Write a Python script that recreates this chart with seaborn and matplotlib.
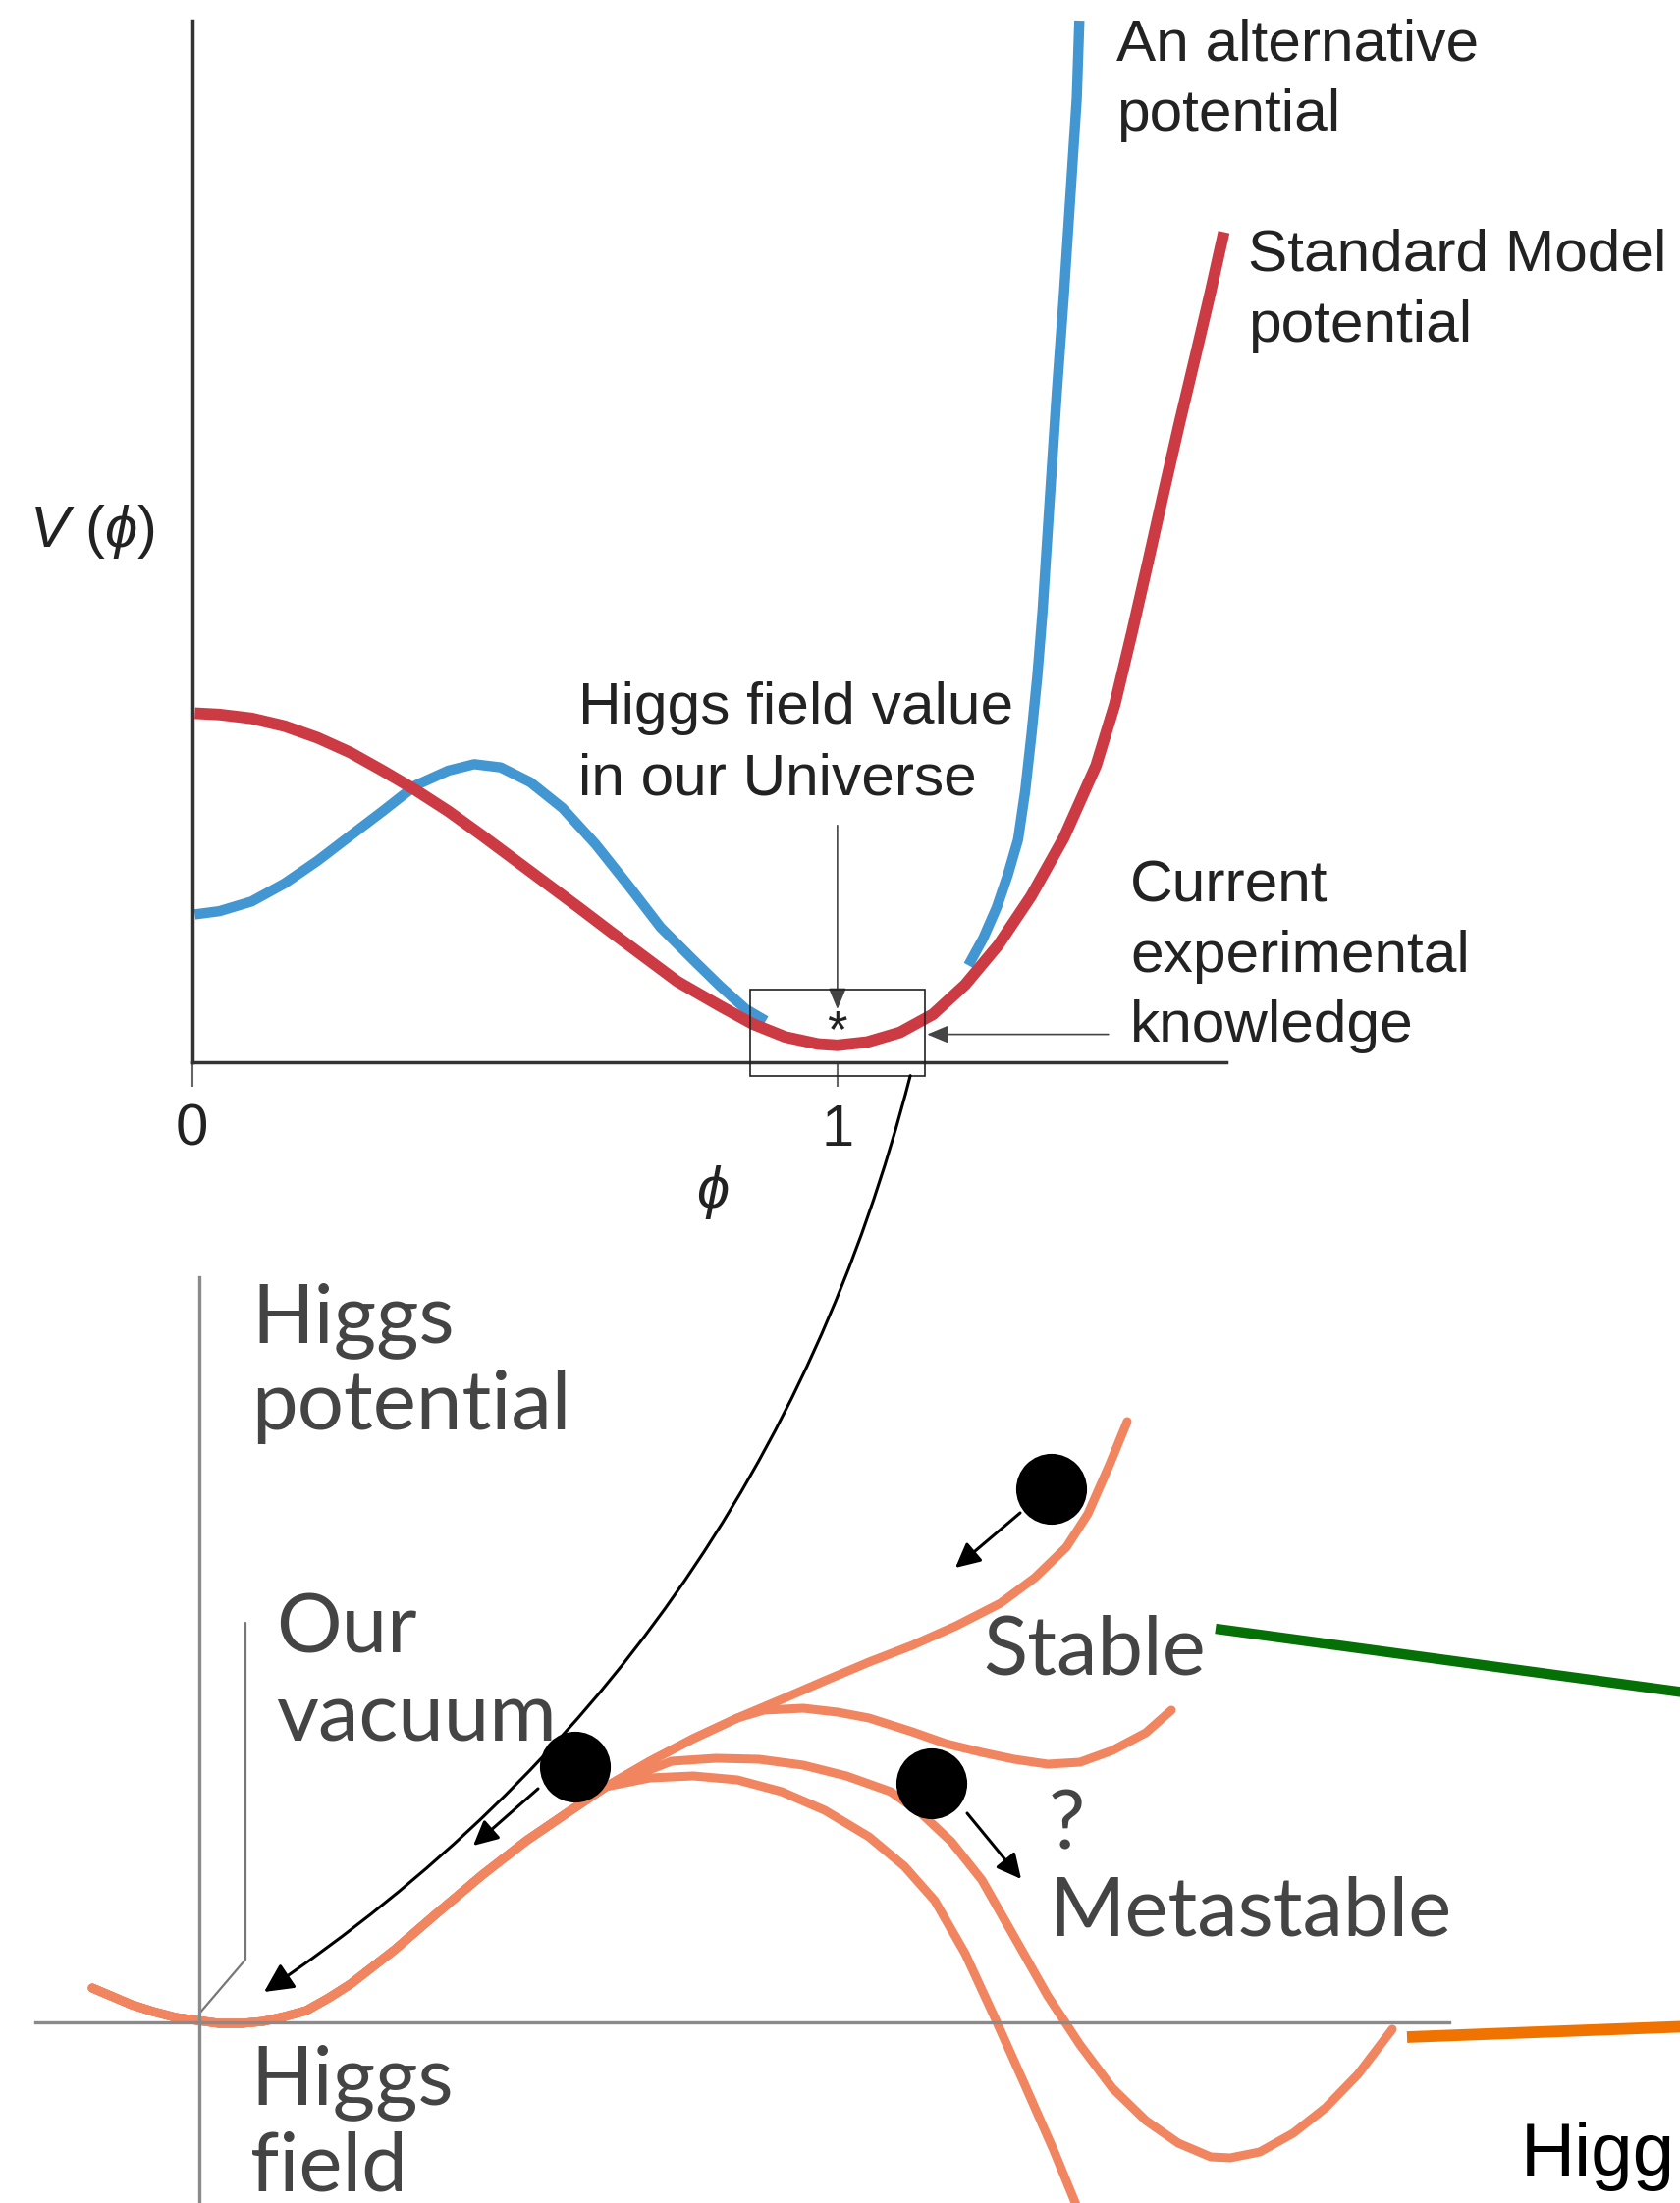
import seaborn as sns
import matplotlib.pyplot as plt
from matplotlib.patches import Rectangle, ConnectionPatch

# ---------------- top panel: V(phi) ----------------
SM_PHI = [0.004, 0.042, 0.092, 0.143, 0.194, 0.245, 0.295, 0.346, 0.397, 0.447,
          0.498, 0.549, 0.600, 0.650, 0.701, 0.752, 0.818, 0.869, 0.919, 0.970,
          1.000, 1.046, 1.097, 1.148, 1.198, 1.249, 1.300, 1.351, 1.401, 1.430,
          1.457, 1.482, 1.506, 1.530, 1.555, 1.578, 1.599]
SM_V = [0.541, 0.539, 0.533, 0.521, 0.503, 0.480, 0.452, 0.422, 0.389, 0.353,
        0.315, 0.277, 0.239, 0.201, 0.163, 0.125, 0.087, 0.059, 0.039, 0.028,
        0.026, 0.031, 0.046, 0.074, 0.120, 0.181, 0.257, 0.348, 0.460, 0.555,
        0.668, 0.778, 0.885, 0.990, 1.095, 1.193, 1.287]

ALT_LEFT_PHI = [0.004, 0.042, 0.092, 0.143, 0.194, 0.245, 0.295, 0.346, 0.397,
                0.437, 0.478, 0.524, 0.574, 0.625, 0.676, 0.726, 0.775, 0.818,
                0.858, 0.889]
ALT_LEFT_V = [0.229, 0.234, 0.249, 0.277, 0.312, 0.351, 0.389, 0.429, 0.452,
              0.462, 0.457, 0.434, 0.394, 0.338, 0.274, 0.209, 0.160, 0.118,
              0.082, 0.064]
ALT_RIGHT_PHI = [1.203, 1.226, 1.247, 1.264, 1.280, 1.291, 1.301, 1.310, 1.318,
                 1.330, 1.340, 1.351, 1.361, 1.371, 1.375]
ALT_RIGHT_V = [0.150, 0.192, 0.240, 0.290, 0.345, 0.420, 0.510, 0.600, 0.700,
               0.886, 1.038, 1.190, 1.342, 1.495, 1.615]

TICKS = [0, 1]
TICK_LABELS = ['0', '1']

# ---------------- bottom panel: Higgs potential sketch ----------------
TRUNK_X = [-1.09, -0.69, -0.47, -0.24, -0.02, 0.20, 0.43, 0.65, 0.87, 1.09,
           1.32, 1.54, 1.99, 2.43, 2.88, 3.33, 3.77, 4.14]
TRUNK_Y = [0.35, 0.18, 0.11, 0.05, 0.02, -0.01, -0.01, 0.01, 0.06, 0.12,
           0.25, 0.39, 0.74, 1.12, 1.50, 1.85, 2.15, 2.40]

STABLE_X = [4.59, 5.03, 5.48, 5.93, 6.37, 6.82, 7.26, 7.71, 8.16, 8.51, 8.83,
            9.05, 9.27, 9.45]
STABLE_Y = [2.66, 2.89, 3.10, 3.29, 3.48, 3.67, 3.84, 4.04, 4.27, 4.53, 4.84,
            5.18, 5.68, 6.12]

DIP_X = [5.75, 6.15, 6.50, 6.82, 7.26, 7.60, 7.97, 8.30, 8.64, 8.97, 9.30,
         9.64, 9.90]
DIP_Y = [3.18, 3.20, 3.16, 3.10, 2.96, 2.84, 2.75, 2.68, 2.63, 2.65, 2.77,
         2.95, 3.18]

META_X = [4.81, 5.26, 5.70, 6.15, 6.59, 7.04, 7.35, 7.66, 7.97, 8.30, 8.64,
          8.97, 9.30, 9.64, 9.97, 10.30, 10.50, 10.80, 11.14, 11.47, 11.80,
          12.15]
META_Y = [2.66, 2.69, 2.68, 2.62, 2.51, 2.35, 2.13, 1.84, 1.45, 0.87, 0.27,
          -0.23, -0.67, -1.00, -1.23, -1.37, -1.38, -1.32, -1.13, -0.87, -0.53,
          -0.07]

UNSTABLE_X = [4.59, 5.03, 5.48, 5.93, 6.37, 6.82, 7.18, 7.49, 7.80, 8.10,
              8.40, 8.70, 8.93]
UNSTABLE_Y = [2.49, 2.51, 2.47, 2.35, 2.16, 1.89, 1.59, 1.24, 0.70, 0.05,
              -0.62, -1.30, -1.86]

BALL_X = [8.68, 3.83, 7.46]
BALL_Y = [5.43, 2.60, 2.43]

BRACKET_X = [0.47, 0.47, 0.0]
BRACKET_Y = [4.07, 0.64, 0.09]

RED = '#CC3A43'
BLUE = '#4296D2'
SALMON = '#F08560'

sns.set_theme(style='white')
plt.rcParams['font.family'] = ['Liberation Sans', 'DejaVu Sans']
plt.rcParams['mathtext.fontset'] = 'custom'
plt.rcParams['mathtext.rm'] = 'Liberation Sans'
plt.rcParams['mathtext.it'] = 'Liberation Sans:italic'

fig = plt.figure(figsize=(17.11, 22.44), dpi=100)
ax = fig.add_axes([0, 1 - 1250 / 2244, 1, 1250 / 2244])
axb = fig.add_axes([0, 0, 1, 994 / 2244])
for a in (ax, axb):
    a.patch.set_alpha(0)

# ---- top panel ----
line_kw = dict(sort=False, estimator=None, legend=False,
               solid_joinstyle='round')
sns.lineplot(x=ALT_LEFT_PHI, y=ALT_LEFT_V, ax=ax, color=BLUE, linewidth=7.5,
             solid_capstyle='butt', **line_kw)
sns.lineplot(x=ALT_RIGHT_PHI, y=ALT_RIGHT_V, ax=ax, color=BLUE, linewidth=7.5,
             solid_capstyle='butt', **line_kw)
sns.lineplot(x=SM_PHI, y=SM_V, ax=ax, color=RED, linewidth=8.5,
             solid_capstyle='butt', zorder=3, **line_kw)

ax.set_xlim(-0.298, 2.306)
ax.set_ylim(-0.256, 1.647)
ax.spines['top'].set_visible(False)
ax.spines['right'].set_visible(False)
ax.spines['left'].set_position(('data', 0))
ax.spines['left'].set_bounds(0, 1.615)
ax.spines['bottom'].set_position(('data', 0))
ax.spines['bottom'].set_bounds(0, 1.603)
for s in ('left', 'bottom'):
    ax.spines[s].set_color('#333333')
    ax.spines[s].set_linewidth(2.5)
ax.set_xticks(TICKS)
ax.set_xticklabels(TICK_LABELS)
ax.set_yticks([])
ax.tick_params(axis='x', bottom=True, direction='out', length=18, width=1.5,
               color='#666666', labelsize=43, labelcolor='#222222', pad=12)

txt = dict(fontsize=43.5, color='#222222', va='baseline', ha='left')
ax.text(1.432, 1.553, 'An alternative', **txt)
ax.text(1.432, 1.444, 'potential', **txt)
ax.text(1.636, 1.227, 'Standard Model', **txt)
ax.text(1.636, 1.117, 'potential', **txt)
ax.text(0.598, 0.525, 'Higgs field value', **txt)
ax.text(0.598, 0.414, 'in our Universe', **txt)
ax.text(1.454, 0.248, 'Current', **txt)
ax.text(1.454, 0.140, 'experimental', **txt)
ax.text(1.454, 0.032, 'knowledge', **txt)
ax.text(-0.252, 0.822, r'$V\ (\phi)$', fontsize=43, color='#222222',
        va='center', ha='left')
ax.text(0.807, -0.202, r'$\phi$', fontsize=43, color='#222222',
        va='center', ha='center')
ax.text(1.0, 0.024, '*', fontsize=38, color='#222222', va='baseline',
        ha='center')

ax.add_patch(Rectangle((0.865, -0.021), 0.270, 0.134, fill=False,
                       edgecolor='#222222', linewidth=1.2, zorder=4))
thin = dict(arrowstyle='-|>,head_length=0.6,head_width=0.25',
            color='#444444', lw=1.2, mutation_scale=22,
            shrinkA=0, shrinkB=0)
ax.annotate('', xy=(1.0, 0.082), xytext=(1.0, 0.367), arrowprops=thin)
ax.annotate('', xy=(1.139, 0.043), xytext=(1.420, 0.043), arrowprops=thin)

# ---- bottom panel ----
sns.lineplot(x=TRUNK_X + STABLE_X, y=TRUNK_Y + STABLE_Y, ax=axb,
             color=SALMON, linewidth=6.5, **line_kw)
sns.lineplot(x=TRUNK_X + STABLE_X[:3] + DIP_X, y=TRUNK_Y + STABLE_Y[:3] + DIP_Y,
             ax=axb, color=SALMON, linewidth=6.5, **line_kw)
sns.lineplot(x=TRUNK_X + META_X, y=TRUNK_Y + META_Y, ax=axb,
             color=SALMON, linewidth=6.5, **line_kw)
sns.lineplot(x=TRUNK_X + UNSTABLE_X, y=TRUNK_Y + UNSTABLE_Y, ax=axb,
             color=SALMON, linewidth=6.5, **line_kw)
axb.plot(BRACKET_X, BRACKET_Y, color='#777777', linewidth=1.6)

sns.scatterplot(x=BALL_X, y=BALL_Y, ax=axb, s=2700, color='black',
                edgecolor='none', zorder=5, legend=False)

axb.set_xlim(-2.03, 15.08)
axb.set_ylim(-1.84, 8.10)
axb.spines['top'].set_visible(False)
axb.spines['right'].set_visible(False)
axb.spines['left'].set_position(('data', 0))
axb.spines['left'].set_bounds(-1.84, 7.59)
axb.spines['bottom'].set_position(('data', 0))
axb.spines['bottom'].set_bounds(-1.67, 12.73)
for s in ('left', 'bottom'):
    axb.spines[s].set_color('#8a8a8a')
    axb.spines[s].set_linewidth(2.4)
axb.set_xticks([])
axb.set_yticks([])

lab = dict(fontsize=60, color='#444444', va='baseline', ha='left',
           family=['Lato', 'DejaVu Sans'])
axb.text(0.53, 6.93, 'Higgs', **lab)
axb.text(0.53, 6.04, 'potential', **lab)
axb.text(0.78, 3.76, 'Our', **lab)
axb.text(0.78, 2.86, 'vacuum', **lab)
axb.text(0.52, -0.83, 'Higgs', **lab)
axb.text(0.52, -1.72, 'field', **lab)
axb.text(7.98, 3.54, 'Stable', **lab)
axb.text(8.65, 1.76, '?', **lab)
axb.text(8.65, 0.88, 'Metastable', **lab)

small = dict(arrowstyle='-|>', color='black', lw=2.2, mutation_scale=38,
             shrinkA=0, shrinkB=0)
axb.annotate('', xy=(7.70, 4.63), xytext=(8.36, 5.19), arrowprops=small)
axb.annotate('', xy=(2.79, 1.80), xytext=(3.45, 2.38), arrowprops=small)
axb.annotate('', xy=(8.37, 1.46), xytext=(7.82, 2.13), arrowprops=small)

# callout lines running off the right edge
axb.plot([10.35, 15.2], [4.01, 3.35], color='#057005', linewidth=7.5,
         solid_capstyle='butt')
axb.plot([12.30, 15.2], [-0.15, -0.04], color='#F07300', linewidth=8.5,
         solid_capstyle='butt')
axb.text(13.46, -1.56, 'Higg', fontsize=55, color='black', va='baseline',
         ha='left')

# curved connector from the experimental box down to our vacuum
con = ConnectionPatch(xyA=(1.113, -0.021), coordsA=ax.transData,
                      xyB=(0.66, 0.31), coordsB=axb.transData,
                      arrowstyle='-|>', connectionstyle='arc3,rad=-0.19',
                      color='black', linewidth=2.2, mutation_scale=45,
                      zorder=6)
fig.add_artist(con)

fig.savefig('out.png', dpi=100)
